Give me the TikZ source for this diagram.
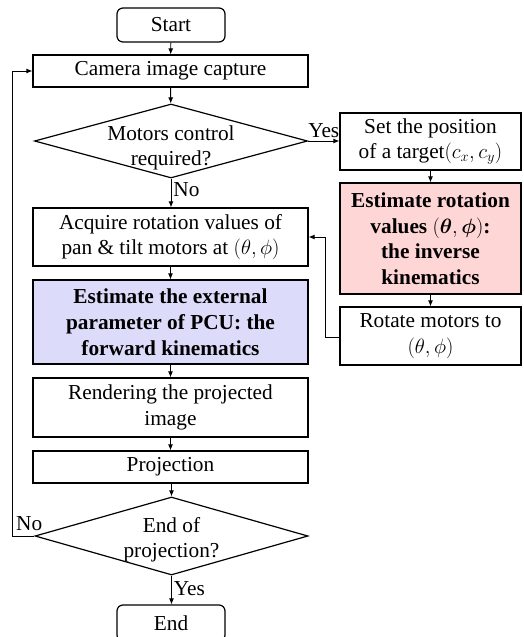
\documentclass[tikz,border=0pt]{standalone}
\usepackage{amsmath}
\usepackage{bm}
\usepackage{fontspec}
\setmainfont{Liberation Serif}
\usetikzlibrary{shapes.geometric,arrows.meta}
\definecolor{pinkfill}{RGB}{255,214,214}
\definecolor{bluefill}{RGB}{220,220,250}
\begin{document}
\begin{tikzpicture}[x=1pt,y=-1pt,
  font=\fontsize{21.3}{25.5}\selectfont,
  box/.style={draw, line width=1.2pt, rectangle, inner sep=0pt, align=center, minimum width=275pt},
  rbox/.style={draw, line width=1.2pt, rectangle, inner sep=0pt, align=center, minimum width=181pt},
  term/.style={draw, line width=1.2pt, rectangle, rounded corners=6pt, inner sep=0pt, minimum width=108pt},
  dec/.style={draw, line width=1.2pt, diamond, inner sep=0pt, minimum width=273pt},
  dtext/.style={align=center, inner sep=0pt},
  arr/.style={line width=0.9pt, -{Latex[length=6pt,width=5pt]}},
  lbl/.style={inner sep=0pt}]
\useasboundingbox (0,0) rectangle (524,637);
% main column
\node[term, minimum height=34pt] (start) at (171,25) {Start};
\node[box, minimum height=32pt] (cam) at (170.5,71) {Camera image capture};
\node[dec, minimum height=74pt] (d1) at (171,141) {};
\node[dtext] (d1t) at (171,148) {Motors control\\required?};
\node[box, minimum height=58pt] (acq) at (170.5,237) {Acquire rotation values of\\pan \& tilt motors at $(\theta,\phi)$};
\node[box, fill=bluefill, minimum height=84pt, font=\fontsize{21.3}{26}\selectfont\bfseries] (fk) at (170.5,322) {Estimate the external\\parameter of PCU: the\\forward kinematics};
\node[box, minimum height=59pt] (ren) at (170.5,407.5) {Rendering the projected\\image};
\node[box, minimum height=32pt] (proj) at (170.5,467) {Projection};
\node[dec, minimum height=78pt] (d2) at (171.5,536) {};
\node[dtext] (d2t) at (171.5,540) {End of\\projection?};
\node[term, minimum height=36pt] (end) at (171,623) {End};
% right column
\node[rbox, minimum height=57pt] (set) at (430.5,141.5) {Set the position\\of a target$(c_x,c_y)$};
\node[rbox, fill=pinkfill, minimum height=111pt, font=\fontsize{21.3}{25.5}\selectfont\bfseries] (ik) at (430.5,238.5) {Estimate rotation\\values $(\bm{\theta},\bm{\phi})$:\\the inverse\\kinematics};
\node[rbox, minimum height=58pt] (rot) at (430.5,336) {Rotate motors to\\$(\theta,\phi)$};
\coordinate (lp) at (12,536);
\coordinate (rp) at (325,337);
% connectors
\draw[arr] (start) -- (cam);
\draw[arr] (cam) -- (d1);
\draw[arr] (d1.east) -- node[lbl, above=3pt] (yes1) {Yes} (set.west |- d1.east);
\draw[arr] (d1.south) -- node[lbl, right=2pt, pos=0.4] (no1) {No} (acq.north -| d1.south);
\draw[arr] (set) -- (ik);
\draw[arr] (ik) -- (rot);
\draw[arr] (rot.west |- rp) -- (rp) |- (acq.east);
\draw[arr] (acq) -- (fk);
\draw[arr] (fk) -- (ren);
\draw[arr] (ren) -- (proj);
\draw[arr] (proj.south -| d2.north) -- (d2.north);
\draw[arr] (d2.south) -- node[lbl, right=2pt, pos=0.45] (yes2) {Yes} (end.north -| d2.south);
\draw[arr] (d2.west) -- (lp |- d2.west) |- (cam.west);
\node[lbl, anchor=south west] (no2) at (16,531) {No};
\end{tikzpicture}
\end{document}
